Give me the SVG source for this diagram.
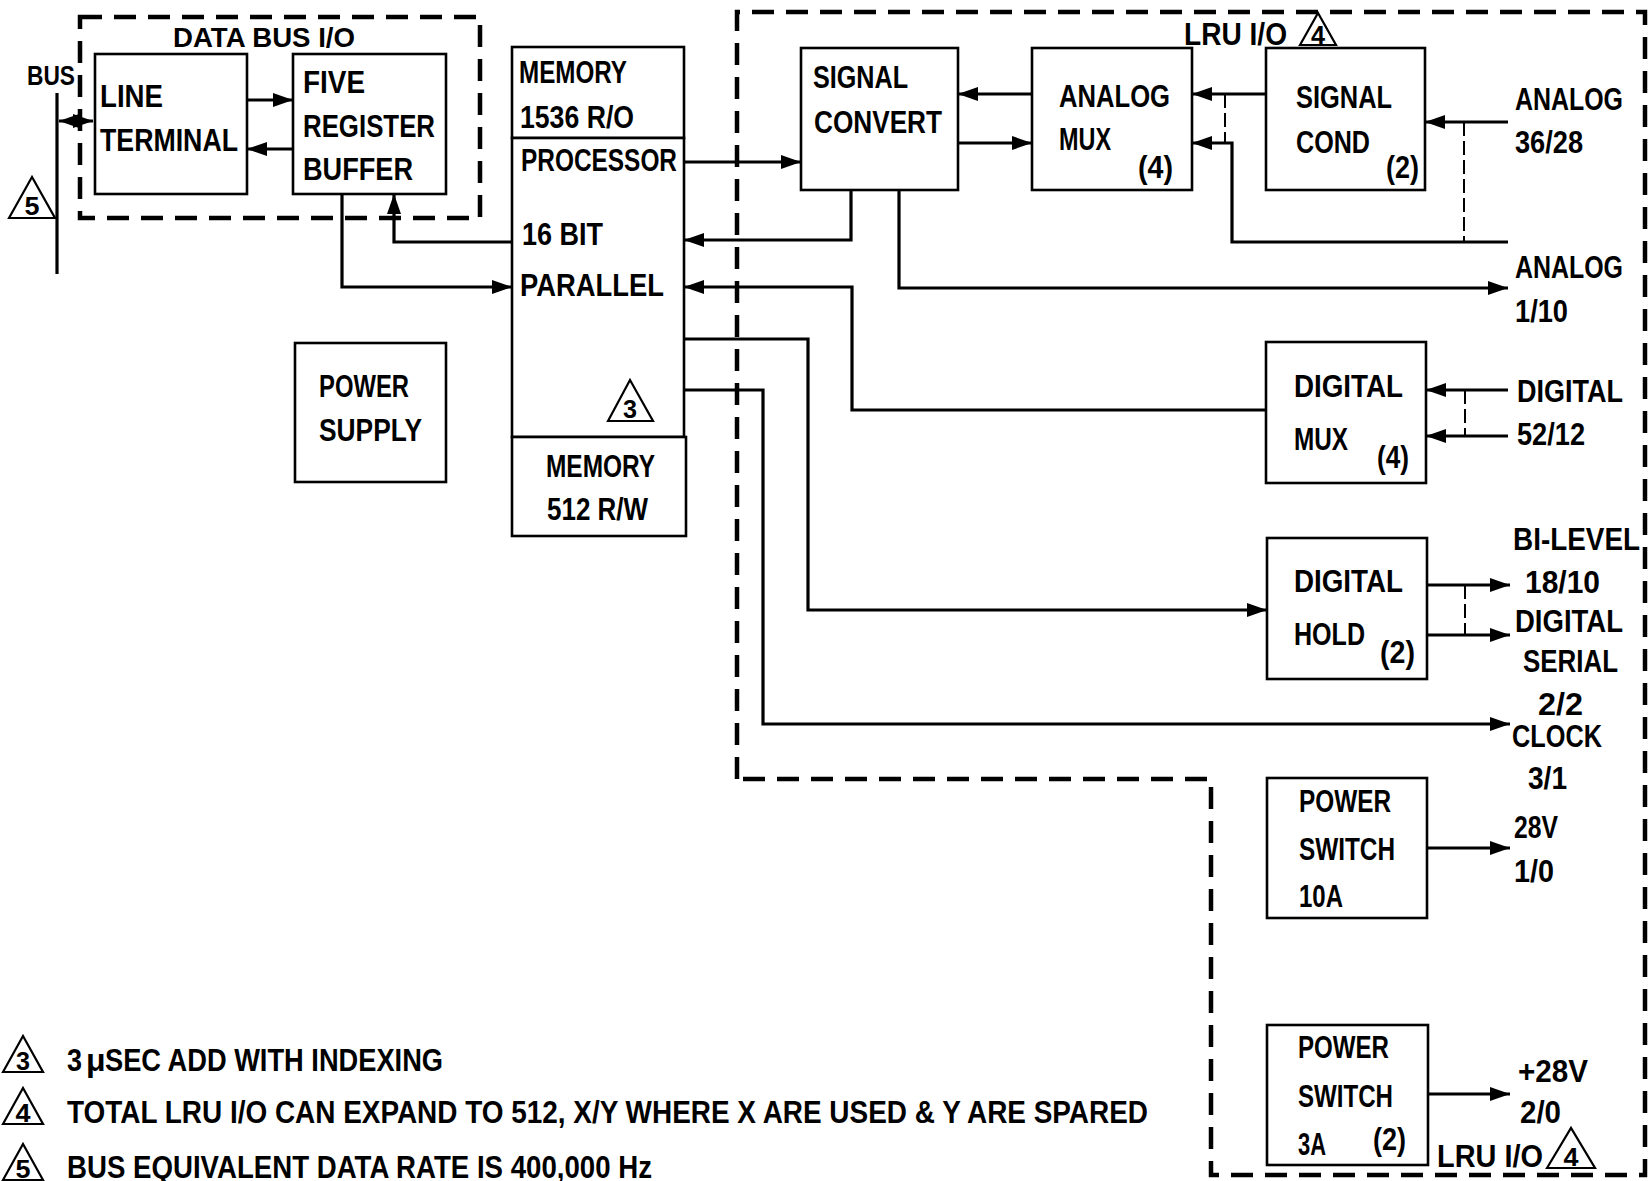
<svg xmlns="http://www.w3.org/2000/svg" width="1648" height="1181" viewBox="0 0 1648 1181">
<style>
  text { font-family: "Liberation Sans", "DejaVu Sans", sans-serif; font-size: 32px; font-weight: bold; fill: #000; }
  .sm { font-size: 28px; }
  .num { font-size: 25px; }
  .box { fill: #fff; stroke: #000; stroke-width: 2.6; }
  .wire { fill: none; stroke: #000; stroke-width: 3.2; }
  .arr { fill: none; stroke: #000; stroke-width: 3.2; marker-end: url(#ah); }
  .dash { fill: none; stroke: #000; stroke-width: 4.5; stroke-dasharray: 22 12; }
  .tick { fill: none; stroke: #000; stroke-width: 2; stroke-dasharray: 14 5; }
  .tri { fill: #fff; stroke: #000; stroke-width: 2.2; }
</style>
<defs>
  <marker id="ah" viewBox="0 0 20 14" refX="20" refY="7" markerWidth="20" markerHeight="14" markerUnits="userSpaceOnUse" orient="auto-start-reverse">
    <path d="M0,0 L20,7 L0,14 z" fill="#000"/>
  </marker>
</defs>
<rect width="1648" height="1181" fill="#fff"/>

<!-- boundaries -->
<g id="boundaries">
  <rect class="dash" x="80" y="17" width="400" height="201"/>
  <path class="dash" d="M737 779 V12 H1645 V1175 H1211 V779 Z"/>
  <text class="sm" x="173" y="47" textLength="182" lengthAdjust="spacingAndGlyphs">DATA BUS I/O</text>
  <text x="1184" y="45" textLength="103" lengthAdjust="spacingAndGlyphs">LRU I/O</text>
  <polygon class="tri" points="1300,45 1318,13 1336,45"/>
  <text class="num" x="1318" y="44" text-anchor="middle" textLength="14" lengthAdjust="spacingAndGlyphs">4</text>
  <text x="1437" y="1167" textLength="106" lengthAdjust="spacingAndGlyphs">LRU I/O</text>
  <polygon class="tri" points="1547,1168 1571,1128 1595,1168"/>
  <text class="num" x="1571" y="1166" text-anchor="middle" textLength="15" lengthAdjust="spacingAndGlyphs">4</text>
</g>

<!-- bus -->
<g id="bus">
  <line x1="57" y1="93" x2="57" y2="274" stroke="#000" stroke-width="3.2"/>
  <text x="27" y="85" class="sm" textLength="48" lengthAdjust="spacingAndGlyphs">BUS</text>
  <polygon class="tri" points="9,218 32,177 55,218"/>
  <text class="num" x="32" y="215" text-anchor="middle" textLength="15" lengthAdjust="spacingAndGlyphs">5</text>
</g>

<!-- nodes -->
<g id="line-terminal">
  <rect class="box" x="95" y="54" width="152" height="140"/>
  <text x="100" y="107" textLength="63" lengthAdjust="spacingAndGlyphs">LINE</text>
  <text x="100" y="151" textLength="138" lengthAdjust="spacingAndGlyphs">TERMINAL</text>
</g>
<g id="five-register-buffer">
  <rect class="box" x="293" y="54" width="153" height="140"/>
  <text x="303" y="93" textLength="62" lengthAdjust="spacingAndGlyphs">FIVE</text>
  <text x="303" y="137" textLength="132" lengthAdjust="spacingAndGlyphs">REGISTER</text>
  <text x="303" y="180" textLength="110" lengthAdjust="spacingAndGlyphs">BUFFER</text>
</g>
<g id="memory-1536">
  <rect class="box" x="512" y="47" width="172" height="91"/>
  <text x="519" y="83" textLength="108" lengthAdjust="spacingAndGlyphs">MEMORY</text>
  <text x="520" y="128" textLength="114" lengthAdjust="spacingAndGlyphs">1536 R/O</text>
</g>
<g id="processor">
  <rect class="box" x="512" y="138" width="172" height="299"/>
  <text x="521" y="171" textLength="156" lengthAdjust="spacingAndGlyphs">PROCESSOR</text>
  <text x="522" y="245" textLength="81" lengthAdjust="spacingAndGlyphs">16 BIT</text>
  <text x="520" y="296" textLength="144" lengthAdjust="spacingAndGlyphs">PARALLEL</text>
  <polygon class="tri" points="608,421 630,380 653,421"/>
  <text class="num" x="630" y="418" text-anchor="middle" textLength="14" lengthAdjust="spacingAndGlyphs">3</text>
</g>
<g id="memory-512">
  <rect class="box" x="512" y="437" width="174" height="99"/>
  <text x="546" y="477" textLength="109" lengthAdjust="spacingAndGlyphs">MEMORY</text>
  <text x="547" y="520" textLength="101" lengthAdjust="spacingAndGlyphs">512 R/W</text>
</g>
<g id="power-supply">
  <rect class="box" x="295" y="343" width="151" height="139"/>
  <text x="319" y="397" textLength="90" lengthAdjust="spacingAndGlyphs">POWER</text>
  <text x="319" y="441" textLength="103" lengthAdjust="spacingAndGlyphs">SUPPLY</text>
</g>
<g id="signal-convert">
  <rect class="box" x="801" y="48" width="157" height="142"/>
  <text x="813" y="88" textLength="95" lengthAdjust="spacingAndGlyphs">SIGNAL</text>
  <text x="814" y="133" textLength="128" lengthAdjust="spacingAndGlyphs">CONVERT</text>
</g>
<g id="analog-mux">
  <rect class="box" x="1032" y="48" width="160" height="142"/>
  <text x="1059" y="107" textLength="111" lengthAdjust="spacingAndGlyphs">ANALOG</text>
  <text x="1059" y="150" textLength="52" lengthAdjust="spacingAndGlyphs">MUX</text>
  <text x="1138" y="178" textLength="35" lengthAdjust="spacingAndGlyphs">(4)</text>
</g>
<g id="signal-cond">
  <rect class="box" x="1266" y="48" width="159" height="142"/>
  <text x="1296" y="108" textLength="96" lengthAdjust="spacingAndGlyphs">SIGNAL</text>
  <text x="1296" y="153" textLength="74" lengthAdjust="spacingAndGlyphs">COND</text>
  <text x="1386" y="178" textLength="33" lengthAdjust="spacingAndGlyphs">(2)</text>
</g>
<g id="digital-mux">
  <rect class="box" x="1266" y="342" width="160" height="141"/>
  <text x="1294" y="397" textLength="109" lengthAdjust="spacingAndGlyphs">DIGITAL</text>
  <text x="1294" y="450" textLength="54" lengthAdjust="spacingAndGlyphs">MUX</text>
  <text x="1377" y="468" textLength="32" lengthAdjust="spacingAndGlyphs">(4)</text>
</g>
<g id="digital-hold">
  <rect class="box" x="1267" y="538" width="160" height="141"/>
  <text x="1294" y="592" textLength="109" lengthAdjust="spacingAndGlyphs">DIGITAL</text>
  <text x="1294" y="645" textLength="71" lengthAdjust="spacingAndGlyphs">HOLD</text>
  <text x="1380" y="663" textLength="35" lengthAdjust="spacingAndGlyphs">(2)</text>
</g>
<g id="power-switch-10a">
  <rect class="box" x="1267" y="778" width="160" height="140"/>
  <text x="1299" y="812" textLength="92" lengthAdjust="spacingAndGlyphs">POWER</text>
  <text x="1299" y="860" textLength="96" lengthAdjust="spacingAndGlyphs">SWITCH</text>
  <text x="1299" y="907" textLength="44" lengthAdjust="spacingAndGlyphs">10A</text>
</g>
<g id="power-switch-3a">
  <rect class="box" x="1267" y="1025" width="161" height="140"/>
  <text x="1298" y="1058" textLength="91" lengthAdjust="spacingAndGlyphs">POWER</text>
  <text x="1298" y="1107" textLength="95" lengthAdjust="spacingAndGlyphs">SWITCH</text>
  <text x="1298" y="1155" textLength="28" lengthAdjust="spacingAndGlyphs">3A</text>
  <text x="1373" y="1150" textLength="33" lengthAdjust="spacingAndGlyphs">(2)</text>
</g>

<!-- external signal labels -->
<g id="labels">
  <text x="1515" y="110" textLength="108" lengthAdjust="spacingAndGlyphs">ANALOG</text>
  <text x="1515" y="153" textLength="68" lengthAdjust="spacingAndGlyphs">36/28</text>
  <text x="1515" y="278" textLength="108" lengthAdjust="spacingAndGlyphs">ANALOG</text>
  <text x="1515" y="322" textLength="53" lengthAdjust="spacingAndGlyphs">1/10</text>
  <text x="1517" y="402" textLength="106" lengthAdjust="spacingAndGlyphs">DIGITAL</text>
  <text x="1517" y="445" textLength="68" lengthAdjust="spacingAndGlyphs">52/12</text>
  <text x="1513" y="550" textLength="127" lengthAdjust="spacingAndGlyphs">BI-LEVEL</text>
  <text x="1525" y="593" textLength="75" lengthAdjust="spacingAndGlyphs">18/10</text>
  <text x="1515" y="632" textLength="108" lengthAdjust="spacingAndGlyphs">DIGITAL</text>
  <text x="1523" y="672" textLength="95" lengthAdjust="spacingAndGlyphs">SERIAL</text>
  <text x="1538" y="715" textLength="45" lengthAdjust="spacingAndGlyphs">2/2</text>
  <text x="1512" y="747" textLength="90" lengthAdjust="spacingAndGlyphs">CLOCK</text>
  <text x="1528" y="789" textLength="39" lengthAdjust="spacingAndGlyphs">3/1</text>
  <text x="1514" y="838" textLength="44" lengthAdjust="spacingAndGlyphs">28V</text>
  <text x="1514" y="882" textLength="40" lengthAdjust="spacingAndGlyphs">1/0</text>
  <text x="1518" y="1082" textLength="70" lengthAdjust="spacingAndGlyphs">+28V</text>
  <text x="1520" y="1123" textLength="41" lengthAdjust="spacingAndGlyphs">2/0</text>
</g>

<!-- connectors -->
<g id="connectors">
  <line class="wire" x1="59" y1="121" x2="93" y2="121" marker-start="url(#ah)" marker-end="url(#ah)"/>
  <path class="arr" d="M247 100 H293"/>
  <path class="arr" d="M293 149 H247"/>
  <path class="arr" d="M342 194 V287 H512"/>
  <path class="arr" d="M512 242 H394 V194"/>
  <path class="arr" d="M684 162 H801"/>
  <path class="arr" d="M851 190 V240 H684"/>
  <path class="arr" d="M1266 410 H852 V287 H684"/>
  <path class="arr" d="M899 190 V288 H1508"/>
  <path class="arr" d="M684 339 H808 V610 H1267"/>
  <path class="arr" d="M684 390 H763 V724 H1510"/>
  <path class="arr" d="M1032 94 H958"/>
  <path class="arr" d="M958 143 H1032"/>
  <path class="arr" d="M1266 94 H1192"/>
  <path class="arr" d="M1508 242 H1232 V143 H1192"/>
  <path class="tick" d="M1225 94 V143"/>
  <path class="arr" d="M1508 122 H1425"/>
  <path class="tick" d="M1464 122 V242"/>
  <path class="arr" d="M1508 390 H1426"/>
  <path class="arr" d="M1508 436 H1426"/>
  <path class="tick" d="M1465 390 V436"/>
  <path class="arr" d="M1427 585 H1510"/>
  <path class="arr" d="M1427 635 H1510"/>
  <path class="tick" d="M1465 585 V635"/>
  <path class="arr" d="M1427 848 H1510"/>
  <path class="arr" d="M1428 1094 H1510"/>
</g>

<!-- notes -->
<g id="notes">
  <polygon class="tri" points="3,1072 23,1036 43,1072"/>
  <text class="num" x="23" y="1070" text-anchor="middle" textLength="14" lengthAdjust="spacingAndGlyphs">3</text>
  <text x="67" y="1071" textLength="15" lengthAdjust="spacingAndGlyphs">3</text>
  <text x="86" y="1071" font-size="16" font-weight="normal">μ</text>
  <text x="105" y="1071" textLength="338" lengthAdjust="spacingAndGlyphs">SEC ADD WITH INDEXING</text>
  <polygon class="tri" points="3,1124 23,1088 43,1124"/>
  <text class="num" x="23" y="1122" text-anchor="middle" textLength="15" lengthAdjust="spacingAndGlyphs">4</text>
  <text x="67" y="1123" textLength="1081" lengthAdjust="spacingAndGlyphs">TOTAL LRU I/O CAN EXPAND TO 512, X/Y WHERE X ARE USED &amp; Y ARE SPARED</text>
  <polygon class="tri" points="3,1180 23,1144 43,1180"/>
  <text class="num" x="23" y="1178" text-anchor="middle" textLength="15" lengthAdjust="spacingAndGlyphs">5</text>
  <text x="67" y="1178" textLength="585" lengthAdjust="spacingAndGlyphs">BUS EQUIVALENT DATA RATE IS 400,000 Hz</text>
</g>
</svg>
